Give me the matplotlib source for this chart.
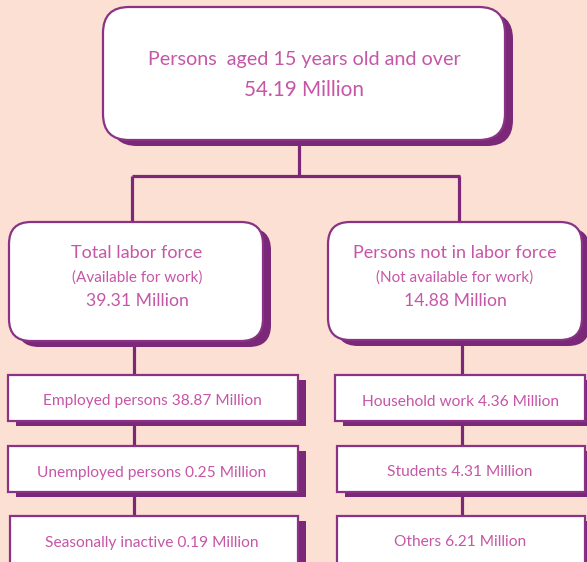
import matplotlib
matplotlib.use("Agg")
import matplotlib.pyplot as plt
from matplotlib.patches import FancyBboxPatch

# ---- data ----
top_label = ["Persons  aged 15 years old and over", "54.19 Million"]
left_label = ["Total labor force", "(Available for work)", "39.31 Million"]
right_label = ["Persons not in labor force", "(Not available for work)", "14.88 Million"]
left_items = ["Employed persons 38.87 Million",
              "Unemployed persons 0.25 Million",
              "Seasonally inactive 0.19 Million"]
right_items = ["Household work 4.36 Million",
               "Students 4.31 Million",
               "Others 6.21 Million"]

# ---- style ----
BG = "#FCE0D3"
EDGE = "#8A3286"
SHADOW = "#7B2878"
TEXT = "#C656A6"
FONT = ["Lato", "DejaVu Sans"]

fig = plt.figure(figsize=(5.87, 5.62), dpi=100)
fig.patch.set_facecolor(BG)
ax = fig.add_axes([0, 0, 1, 1])
ax.set_xlim(0, 587)
ax.set_ylim(562, 0)
ax.axis("off")
ax.set_facecolor(BG)


def box(x0, y0, x1, y1, r, dx=8, dy=6):
    style = f"round,pad=0,rounding_size={r}" if r > 0 else "square,pad=0"
    ax.add_patch(FancyBboxPatch((x0 + dx, y0 + dy), x1 - x0, y1 - y0,
                                boxstyle=style, facecolor=SHADOW,
                                edgecolor="none", zorder=2))
    ax.add_patch(FancyBboxPatch((x0, y0), x1 - x0, y1 - y0,
                                boxstyle=style, facecolor="white",
                                edgecolor=EDGE, linewidth=1.6, zorder=3))


def line(xs, ys):
    ax.plot(xs, ys, color=SHADOW, lw=2.3, zorder=1, solid_capstyle="butt")


# connectors
line([299, 299], [140, 176])
line([132, 460], [176, 176])
line([132, 132], [176, 224])
line([459, 459], [176, 224])
line([134, 134], [340, 377])
line([462, 462], [340, 377])
for ya, yb in [(421, 447), (492, 517)]:
    line([134, 134], [ya, yb])
    line([462, 462], [ya, yb])

# top box
box(103, 7, 505, 140, 26, dx=8, dy=6)
ax.text(304, 60, top_label[0], ha="center", va="center", fontsize=14.2,
        color=TEXT, family=FONT, zorder=4)
ax.text(304, 90, top_label[1], ha="center", va="center", fontsize=14.9,
        color=TEXT, family=FONT, zorder=4)

# middle boxes
box(9, 222, 263, 341, 22, dx=8, dy=6)
box(328, 222, 582, 340, 22, dx=8, dy=6)
sizes = [13, 11, 12.7]
ys = [253.5, 277.5, 301.5]
for lbl, s, y in zip(left_label, sizes, ys):
    ax.text(137, y, lbl, ha="center", va="center", fontsize=s,
            color=TEXT, family=FONT, zorder=4)
for lbl, s, y in zip(right_label, sizes, ys):
    ax.text(455, y, lbl, ha="center", va="center", fontsize=s,
            color=TEXT, family=FONT, zorder=4)

# bottom boxes
tops = [375, 446, 516]
for i, (lt, rt) in enumerate(zip(left_items, right_items)):
    t = tops[i]
    b = t + 46 if i < 2 else 580
    lx0 = 8 if i < 2 else 10
    box(lx0, t, 298, b, 0, dx=8, dy=5)
    rx0 = 335 if i == 0 else 337
    box(rx0, t, 585, b, 0, dx=8, dy=5)
    ax.text(152, t + 26.5, lt, ha="center", va="center", fontsize=11.2,
            color=TEXT, family=FONT, zorder=4)
    ax.text(460, t + 26.5, rt, ha="center", va="center", fontsize=11.2,
            color=TEXT, family=FONT, zorder=4)

fig.savefig("out.png", dpi=100, facecolor=BG)
